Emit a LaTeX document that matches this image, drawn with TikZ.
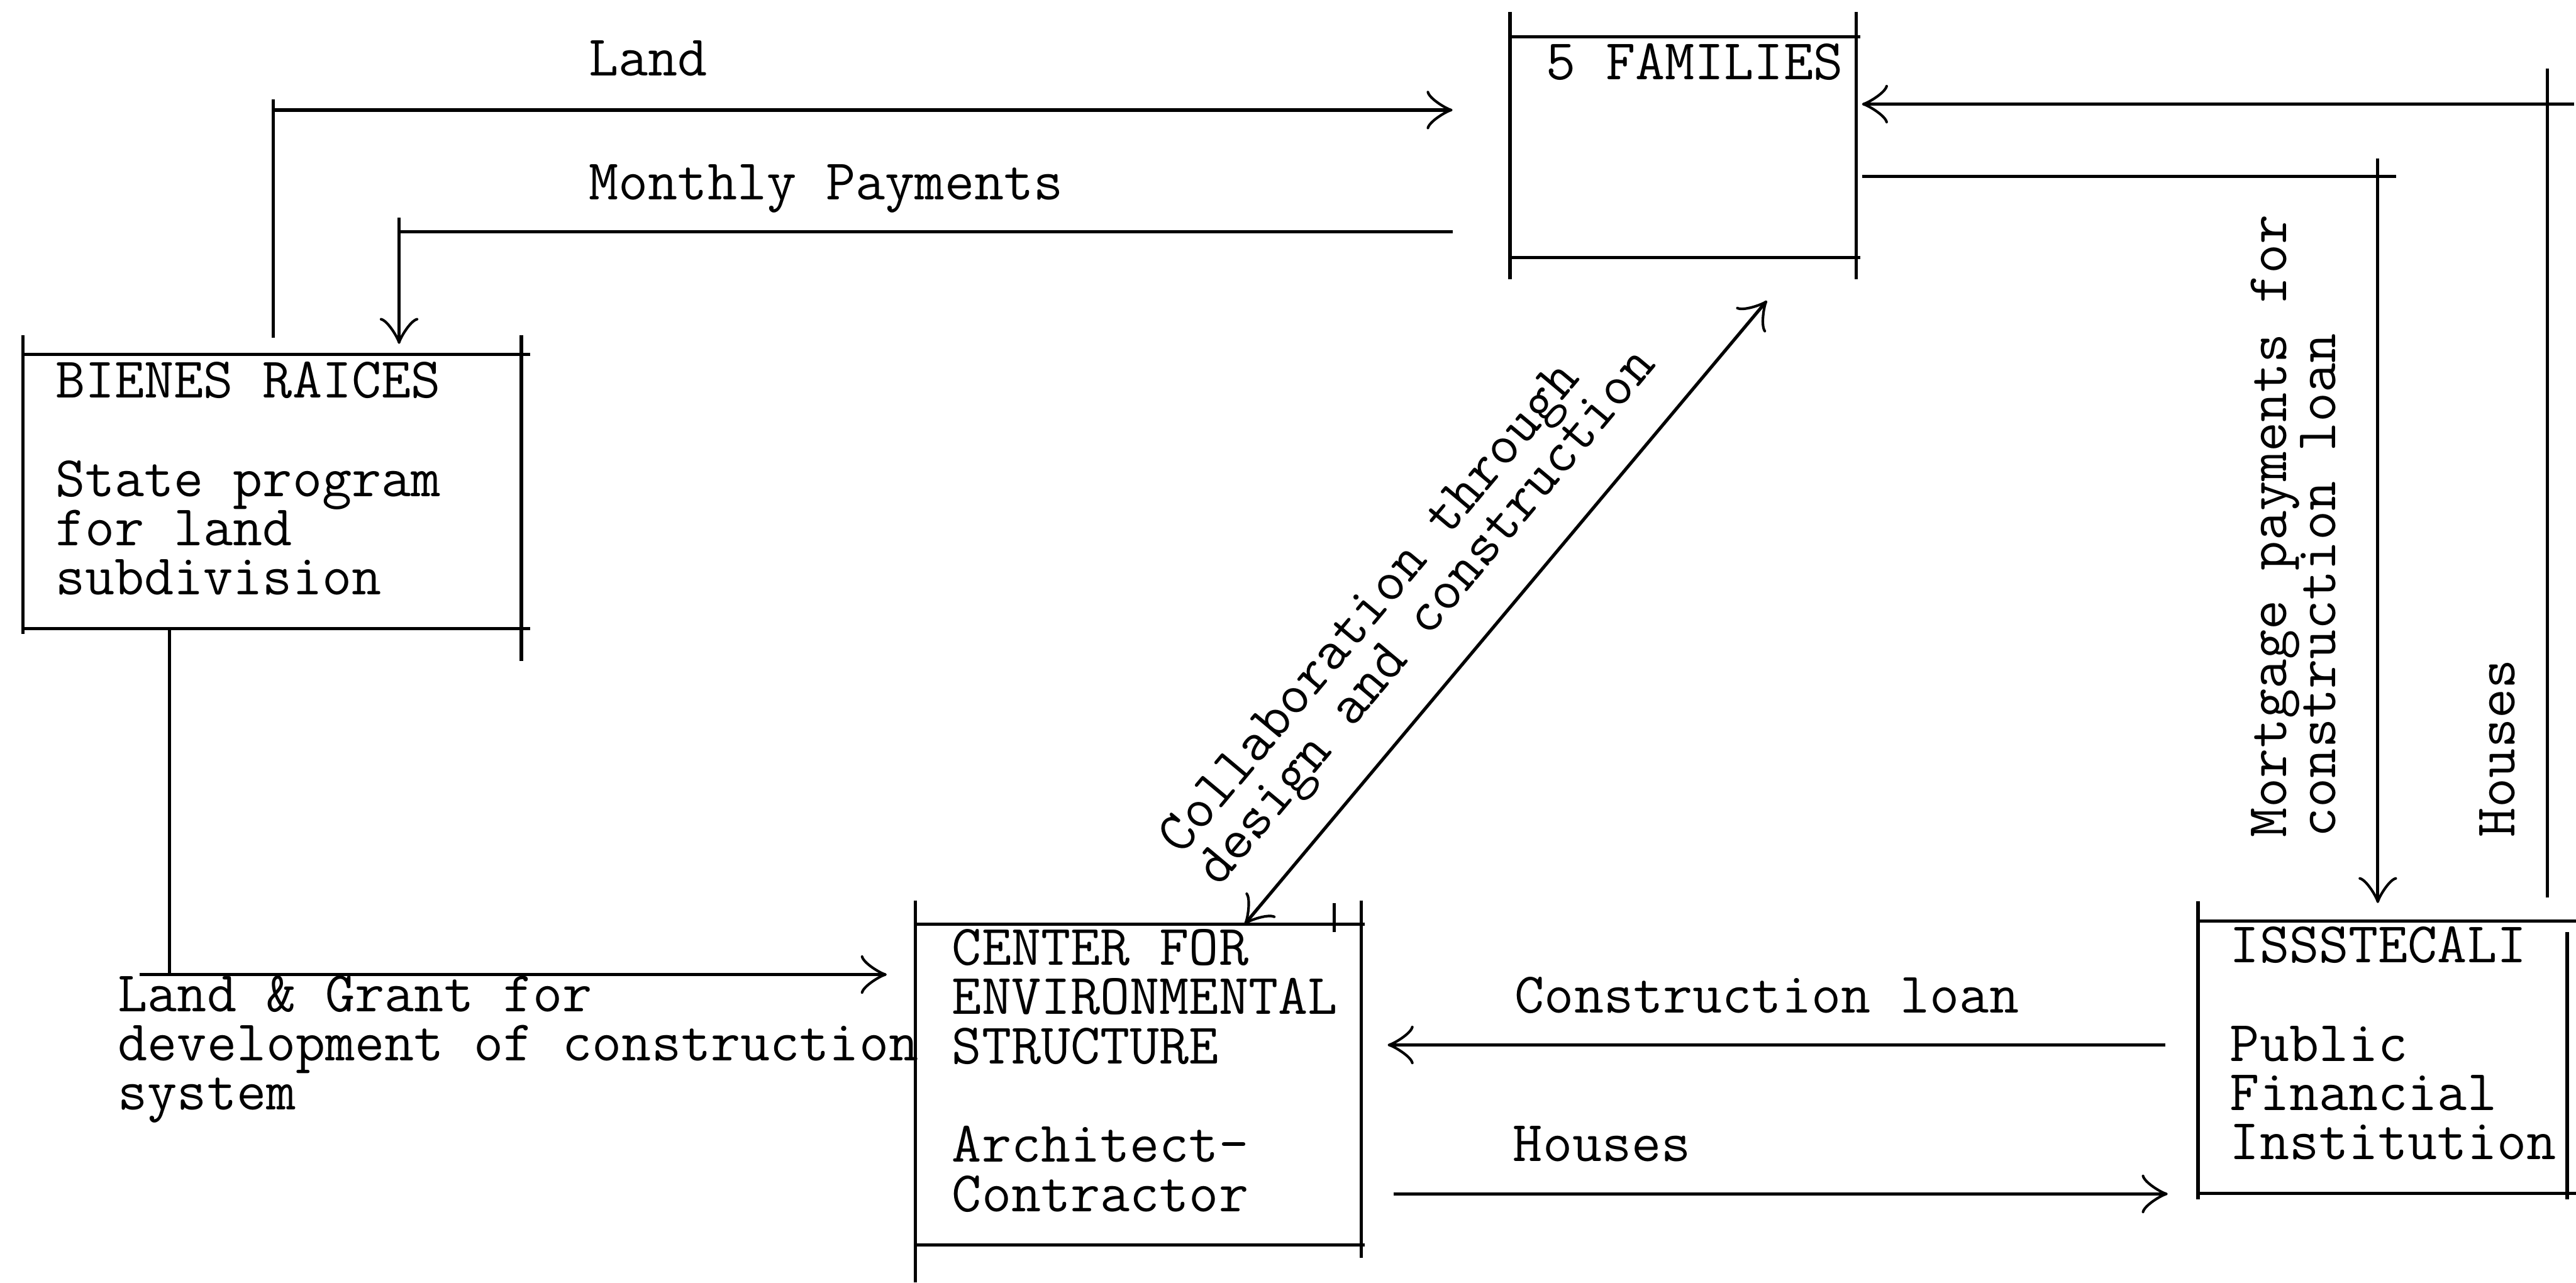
\documentclass[tikz,border=0pt]{standalone}
\usepackage{fontspec}
\usepackage{tikz}
\usetikzlibrary{positioning,arrows.meta,calc}
\tikzset{
	>={Classical TikZ Rightarrow[length=3.5mm,width=5.2mm]},
	area/.style={rectangle, inner sep=0pt, outer sep=0pt},
	boxtext/.style={inner sep=0pt, align=left},
	lbl/.style={inner sep=0pt, align=left, anchor=base west},
	frameline/.style={draw, line width=1.25pt},
	flowline/.style={draw, line width=1.25pt, ->},
	font={\ttfamily\fontsize{22.1pt}{18.9pt}\selectfont},
}
\begin{document}
\begin{tikzpicture}
	\useasboundingbox (0,0) rectangle (34.76,17.305);
	% the four boxes
	\node[area, minimum width=4.67cm, minimum height=2.98cm] (families) at (22.71,15.32) {};
	\node[area, minimum width=6.725cm, minimum height=3.705cm] (bienes) at (3.6725,10.6725) {};
	\node[area, minimum width=6.015cm, minimum height=4.33cm] (ces) at (15.3575,2.67) {};
	\node[area, minimum width=4.98cm, minimum height=3.68cm] (isss) at (32.15,3.04) {};
	\foreach \bx/\ul/\dl/\ur/\dr/\ex in {families/0.335/0.29/0.335/0.29/0.06, bienes/0.255/0.07/0.255/0.43/0.12, ces/0.32/0.505/0.32/0.175/0.05, isss/0.26/0.075/-0.15/0.075/0.12}
	{
		\draw[frameline] ([yshift=\ul cm]\bx.north west) -- ([yshift=-\dl cm]\bx.south west);
		\draw[frameline] ([yshift=\ur cm]\bx.north east) -- ([yshift=-\dr cm]\bx.south east);
		\draw[frameline] (\bx.north west) -- ([xshift=\ex cm]\bx.north east);
		\draw[frameline] (\bx.south west) -- ([xshift=\ex cm]\bx.south east);
	}
	\draw[frameline] ([xshift=-0.36cm, yshift=0.285cm]ces.north east) -- ++(0,-0.39);
	% box texts (base = baseline of the last line)
	\node[boxtext, below right=0.575cm and 0.485cm of families.north west, anchor=base west] (famtext) {5 FAMILIES};
	\node[boxtext, below right=3.245cm and 0.43cm of bienes.north west, anchor=base west] (bientext) {BIENES RAICES\\[18.9pt]State program\\for land\\subdivision};
	\node[boxtext, below right=3.875cm and 0.49cm of ces.north west, anchor=base west] (cestext) {CENTER FOR\\ENVIRONMENTAL\\STRUCTURE\\[18.9pt]Architect-\\Contractor};
	\node[boxtext, below right=3.22cm and 0.425cm of isss.north west, anchor=base west] (issstext) {ISSSTECALI\\[18.9pt]Public\\Financial\\Institution};
	% flow labels
	\node[lbl] (landlbl) at (7.94,16.285) {Land};
	\node[lbl] (paylbl) at (7.94,14.61) {Monthly Payments};
	\node[lbl] (grantlbl) at (1.585,2.33) {Land \& Grant for\\development of construction\\system};
	\node[lbl] (loanlbl) at (20.435,3.635) {Construction loan};
	\node[lbl] (houselbl) at (20.41,1.635) {Houses};
	\node[lbl, rotate=90] (mortlbl) at (31.515,6.0) {Mortgage payments for\\construction loan};
	\node[lbl, rotate=90] (returnlbl) at (33.93,6.0) {Houses};
	% land
	\coordinate (landS) at ([xshift=3.375cm]bienes.north west);
	\coordinate (landE) at ([yshift=-0.99cm]families.north west);
	\draw[flowline, shorten <=0.22cm, shorten >=0.775cm] (landS) |- (landE);
	\draw[frameline] (landS |- landE) -- ++(0,0.145);
	% monthly payments
	\coordinate (payS) at ([yshift=-2.63cm]families.north west);
	\coordinate (payE) at ([xshift=5.075cm]bienes.north west);
	\draw[flowline, shorten <=0.775cm, shorten >=0.14cm] (payS) -| (payE);
	\draw[frameline] (payS -| payE) -- ++(0,0.19);
	% mortgage payments
	\coordinate (mortS) at ([yshift=-1.885cm]families.north east);
	\coordinate (mortE) at ([xshift=2.425cm]isss.north west);
	\draw[flowline, shorten <=0.08cm, shorten >=0.24cm] (mortS) -| (mortE);
	\draw[frameline] (mortS -| mortE) -- ++(0,0.245);
	\draw[frameline] (mortS -| mortE) -- ++(0.25,0);
	% houses back to the families
	\coordinate (retS) at ([xshift=4.715cm]isss.north west);
	\coordinate (retE) at ([yshift=-0.91cm]families.north east);
	\draw[flowline, shorten <=0.315cm, shorten >=0.08cm] (retS) |- (retE);
	\draw[frameline] (retS |- retE) -- ++(0,0.48);
	\draw[frameline] (retS |- retE) -- ++(0.355,0);
	% land & grant
	\coordinate (grantS) at ([xshift=1.975cm]bienes.south west);
	\coordinate (grantE) at ([yshift=-0.68cm]ces.north west);
	\draw[flowline, shorten >=0.385cm] (grantS) |- (grantE);
	\draw[frameline] (grantS |- grantE) -- ++(-0.405,0);
	% loan and houses
	\coordinate (loanS) at ([yshift=-1.675cm]isss.north west);
	\draw[flowline, shorten <=0.445cm, shorten >=0.36cm] (loanS) -- (loanS -| ces.east);
	\coordinate (houseS) at ([yshift=-3.64cm]ces.north east);
	\draw[flowline, shorten <=0.44cm, shorten >=0.41cm] (houseS) -- (houseS -| isss.west);
	% collaboration
	\draw[flowline, <->, shorten >=0.76cm] ([xshift=4.445cm]ces.north west) -- ([xshift=3.955cm]families.south west)
		node[sloped, pos=0.405, above=0.38cm, inner sep=0pt, align=left] (collablbl) {Collaboration through\\design and construction};
\end{tikzpicture}
\end{document}
